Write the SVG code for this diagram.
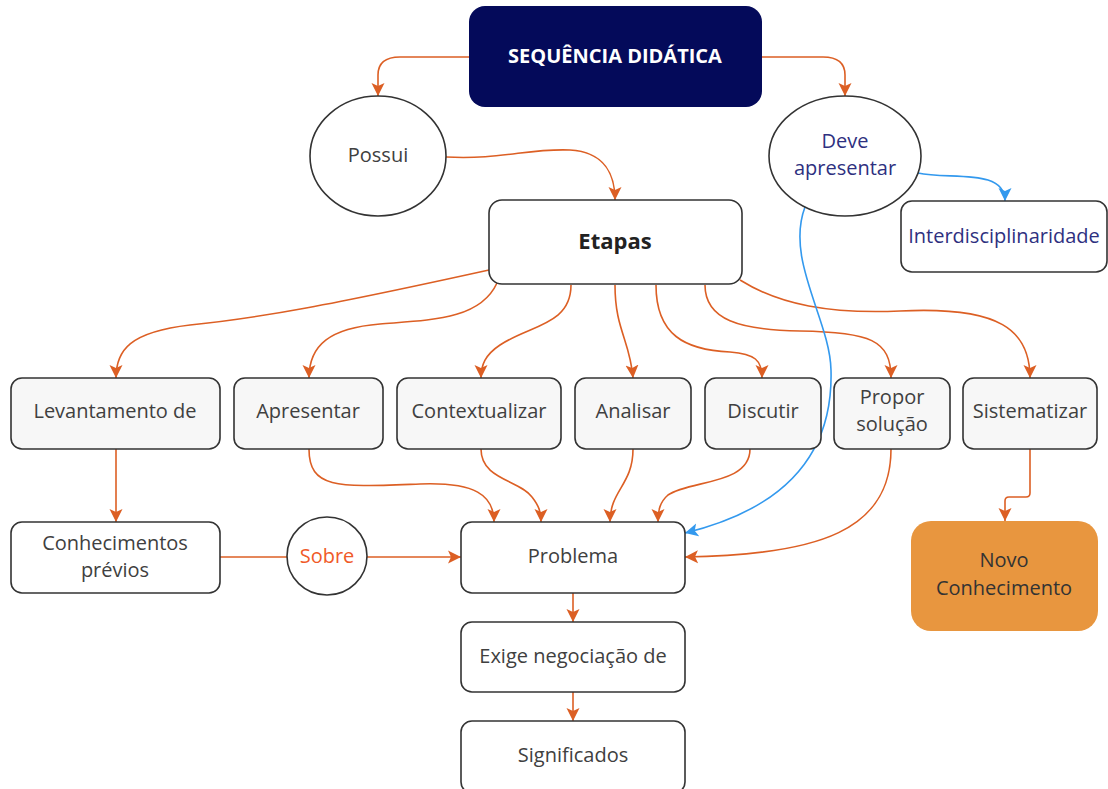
<svg xmlns="http://www.w3.org/2000/svg" width="1108" height="789" viewBox="0 0 1108 789">
<defs>
<style>
.box{fill:#ffffff;stroke:#333333;stroke-width:1.6}
.gray{fill:#f7f7f7;stroke:#333333;stroke-width:1.6}
.t{font-family:"Open Sans","Noto Sans",sans-serif;font-size:20px;fill:#404040;text-anchor:middle}
.o{fill:none;stroke:#dc5f24;stroke-width:1.6}
.b{fill:none;stroke:#3399ee;stroke-width:1.6}
</style>
<marker id="ao" markerUnits="userSpaceOnUse" markerWidth="15" markerHeight="15" refX="13" refY="7.5" orient="auto">
<path d="M0,1 L13,7.5 L0,14 L3,7.5 Z" fill="#dc5f24"/>
</marker>
<marker id="ab" markerUnits="userSpaceOnUse" markerWidth="15" markerHeight="15" refX="13" refY="7.5" orient="auto">
<path d="M0,1 L13,7.5 L0,14 L3,7.5 Z" fill="#3399ee"/>
</marker>
</defs>
<rect width="1108" height="789" fill="#ffffff"/>
<g id="connectors">
<path class="o" marker-end="url(#ao)" d="M469,57 L400,57 Q378,57 378,75 L378,96"/>
<path class="o" marker-end="url(#ao)" d="M762,57 L823,57 Q845,57 845,75 L845,96"/>
<path class="o" marker-end="url(#ao)" d="M446,157 C500,160 530,148 570,150 C605,152 615,175 615,200"/>
<path class="o" marker-end="url(#ao)" d="M489,270 C330,305 260,318 190,325 C130,332 116,350 116,378"/>
<path class="o" marker-end="url(#ao)" d="M497,283 C480,320 430,320 380,324 C330,328 309,345 309,378"/>
<path class="o" marker-end="url(#ao)" d="M571,285 C571,325 530,325 500,345 C485,355 481,365 481,378"/>
<path class="o" marker-end="url(#ao)" d="M615,285 C615,330 630,340 633,378"/>
<path class="o" marker-end="url(#ao)" d="M656,285 C656,335 685,350 730,352 C755,354 762,360 762,378"/>
<path class="o" marker-end="url(#ao)" d="M705,285 C705,320 740,330 800,331 C870,332 891,340 891,378"/>
<path class="o" marker-end="url(#ao)" d="M740,280 C780,305 830,314 900,311 C1000,306 1030,330 1030,378"/>
<path class="o" marker-end="url(#ao)" d="M116,449 L116,522"/>
<path class="o" marker-end="url(#ao)" d="M309,449 C309,490 340,487 420,484 C475,482 494,495 494,522"/>
<path class="o" marker-end="url(#ao)" d="M481,449 C481,480 520,480 532,497 C539,506 541,512 541,522"/>
<path class="o" marker-end="url(#ao)" d="M633,449 C633,485 610,490 610,522"/>
<path class="o" marker-end="url(#ao)" d="M750,449 C750,485 690,480 668,495 C660,502 658,510 658,522"/>
<path class="o" marker-end="url(#ao)" d="M891,449 C891,530 820,555 685,557"/>
<path class="o" marker-end="url(#ao)" d="M1030,449 L1030,493 Q1030,497 1026,497 L1009,497 Q1005,497 1005,501 L1005,521"/>
<path class="o" d="M220,557 L287,557"/>
<path class="o" marker-end="url(#ao)" d="M367,557 L461,557"/>
<path class="o" marker-end="url(#ao)" d="M573,593 L573,622"/>
<path class="o" marker-end="url(#ao)" d="M573,692 L573,721"/>
<path class="b" marker-end="url(#ab)" d="M918,173 C950,180 1005,168 1005,201"/>
<path class="b" marker-end="url(#ab)" d="M805,207 C785,260 830,320 831,370 C833,440 800,505 685,533"/>
</g>
<g id="n-seq">
<rect x="469" y="6" width="293" height="101" rx="16" fill="#040a5a"/>
<text x="615" y="63" font-family="'Open Sans','Noto Sans',sans-serif" font-size="20" font-weight="bold" fill="#ffffff" text-anchor="middle">SEQUÊNCIA DIDÁTICA</text>
</g>
<g id="n-possui">
<ellipse class="box" cx="378" cy="156" rx="68" ry="60"/>
<text class="t" x="378" y="162">Possui</text>
</g>
<g id="n-deve">
<ellipse class="box" cx="845" cy="156" rx="76" ry="60"/>
<text class="t" x="845" y="148" style="fill:#2e3080">Deve</text>
<text class="t" x="845" y="175" style="fill:#2e3080">apresentar</text>
</g>
<g id="n-inter">
<rect class="box" x="901" y="201" width="206" height="71" rx="11"/>
<text class="t" x="1004" y="243" style="fill:#2e3080">Interdisciplinaridade</text>
</g>
<g id="n-etapas">
<rect class="box" x="489" y="200" width="253" height="84" rx="13"/>
<text class="t" x="615" y="249" style="font-weight:bold;font-size:22px;fill:#222222">Etapas</text>
</g>
<g id="n-lev">
<rect class="gray" x="11" y="378" width="209" height="71" rx="11"/>
<text class="t" x="115" y="418">Levantamento de</text>
</g>
<g id="n-apr">
<rect class="gray" x="234" y="378" width="149" height="71" rx="11"/>
<text class="t" x="308" y="418">Apresentar</text>
</g>
<g id="n-ctx">
<rect class="gray" x="397" y="378" width="164" height="71" rx="11"/>
<text class="t" x="479" y="418">Contextualizar</text>
</g>
<g id="n-ana">
<rect class="gray" x="575" y="378" width="116" height="71" rx="11"/>
<text class="t" x="633" y="418">Analisar</text>
</g>
<g id="n-dis">
<rect class="gray" x="705" y="378" width="116" height="71" rx="11"/>
<text class="t" x="763" y="418">Discutir</text>
</g>
<g id="n-pro">
<rect class="gray" x="834" y="378" width="116" height="71" rx="11"/>
<text class="t" x="892" y="404">Propor</text>
<text class="t" x="892" y="431">solução</text>
</g>
<g id="n-sis">
<rect class="gray" x="963" y="378" width="134" height="71" rx="11"/>
<text class="t" x="1030" y="418">Sistematizar</text>
</g>
<g id="n-con">
<rect class="box" x="11" y="522" width="209" height="71" rx="11"/>
<text class="t" x="115" y="550">Conhecimentos</text>
<text class="t" x="115" y="577">prévios</text>
</g>
<g id="n-sobre">
<ellipse class="box" cx="327" cy="556" rx="40" ry="39"/>
<text class="t" x="327" y="563" style="fill:#f05a28">Sobre</text>
</g>
<g id="n-prob">
<rect class="box" x="461" y="522" width="224" height="71" rx="11"/>
<text class="t" x="573" y="563">Problema</text>
</g>
<g id="n-exige">
<rect class="box" x="461" y="622" width="224" height="70" rx="11"/>
<text class="t" x="573" y="663">Exige negociação de</text>
</g>
<g id="n-sig">
<rect class="box" x="461" y="721" width="224" height="72" rx="11"/>
<text class="t" x="573" y="762">Significados</text>
</g>
<g id="n-novo">
<rect x="911" y="521" width="187" height="110" rx="20" fill="#e8963f"/>
<text class="t" x="1004" y="567" style="fill:#333333">Novo</text>
<text class="t" x="1004" y="595" style="fill:#333333">Conhecimento</text>
</g>
</svg>
